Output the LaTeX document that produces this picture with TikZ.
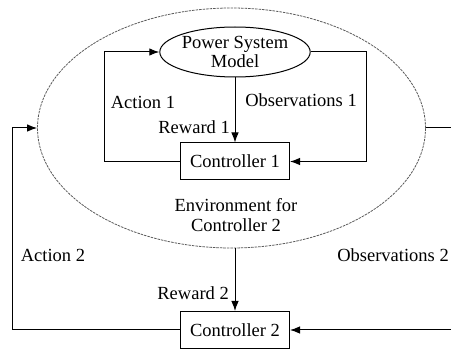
\documentclass[tikz,border=0pt]{standalone}
\usepackage{fontspec}
\setmainfont{Liberation Serif}
\usetikzlibrary{arrows.meta}
\usetikzlibrary{shapes.geometric}
\usetikzlibrary{positioning,calc}

\begin{document}
\begin{tikzpicture}[
  x=1pt, y=-1pt,
  font=\fontsize{18.5}{20.5}\selectfont,
  flow/.style={line width=1pt, -{Latex[length=10pt,width=7.5pt]}},
  tag/.style={inner sep=0pt}
]
	\tikzstyle{environment} = [ellipse, draw=black!65, dash pattern=on 2.5pt off 1pt, line width=0.8pt, minimum width=388pt, minimum height=240pt, inner sep=0pt]
	\tikzstyle{plant} = [ellipse, draw=black, line width=1pt, minimum width=142pt, minimum height=50pt, inner sep=0pt, align=center]
	\tikzstyle{controller} = [rectangle, draw=black, line width=1pt, minimum width=109pt, minimum height=37pt, text centered]

	\useasboundingbox (0,0) rectangle (451,350);

	\node (env) [environment] at (231.5,128) {};
	\node (model) [plant] at (235,52) {Power System\\[-1pt]Model};
	\node (ctrl1) [controller, below of=model, node distance=109.5pt] {Controller 1};
	\node (ctrl2) [controller] at (235,330) {Controller 2};
	\node (envText) [align=center] at (236,215) {Environment for\\Controller 2};

	% inner loop
	\draw[flow] (model) -- (ctrl1);
	\draw[flow] (ctrl1.west) -- ++(-76,0) |- (model.west);
	\draw[flow] (model.east) -- ++(56,0) |- (ctrl1.east);
	\node (action1) [tag] at (143,102) {Action 1};
	\node (obs1) [tag] at (301,100) {Observations 1};
	\node (reward1) [tag, anchor=east] at (230,127) {Reward 1};

	% outer loop
	\draw[flow] (ctrl2.north |- env.south) -- (ctrl2.north);
	\draw[flow] (ctrl2.west) -- ++(-168,0) |- (env.west);
	\draw[flow] (env.east) -- ++(45,0) |- (ctrl2.east);
	\node (action2) [tag] at (53,255) {Action 2};
	\node (obs2) [tag] at (393,255) {Observations 2};
	\node (reward2) [tag, anchor=east] at (229,293) {Reward 2};

\end{tikzpicture}
\end{document}
